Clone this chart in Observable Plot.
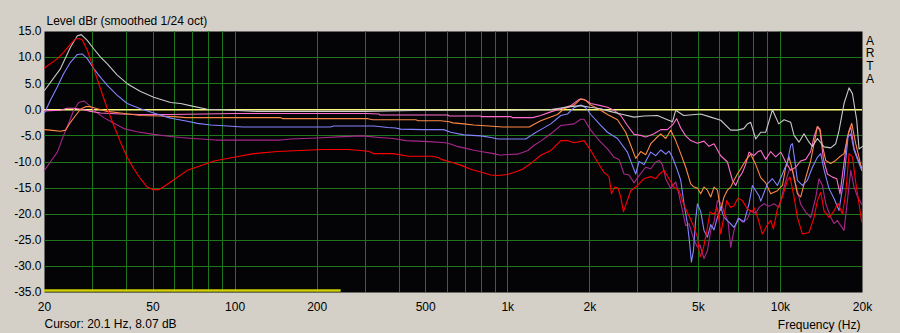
<!DOCTYPE html>
<html>
<head>
<meta charset="utf-8">
<script src="https://cdn.jsdelivr.net/npm/d3@7"></script>
<script src="https://cdn.jsdelivr.net/npm/@observablehq/plot@0.6"></script>
<style>
  html, body { margin: 0; padding: 0; background: #d4d0c8; }
  #chart svg { display: block; }
</style>
</head>
<body>
<div id="chart"></div>
<script>
// ---- axis / grid values ----
const xTicks = [20, 50, 100, 200, 500, 1000, 2000, 5000, 10000, 20000];
const xTickLabels = ["20", "50", "100", "200", "500", "1k", "2k", "5k", "10k", "20k"];
const gridFreqs = [30, 40, 50, 60, 70, 80, 90, 100, 200, 300, 400, 500, 600, 700, 800, 900,
                   1000, 2000, 3000, 4000, 5000, 6000, 7000, 8000, 9000, 10000];
const yTicks = [15, 10, 5, 0, -5, -10, -15, -20, -25, -30, -35];
const gridDb = [10, 5, 0, -5, -10, -15, -20, -25, -30];
const referenceDb = 0;
const cursorBand = { from: 20, to: 245, level: -34.6 };

// ---- measured series: [frequency Hz, level dB] ----
const gray = [[20,3.7],[22.9,7.9],[24.9,12.0],[26.4,14.2],[27.3,14.4],[28.7,13.3],[30.3,11.7],[32.1,10.1],[34.0,8.8],[36.9,6.7],[40.2,5.0],[45,3.5],[50.3,2.4],[58,1.4],[63.1,1.2],[70.4,0.65],[79.1,0.1],[90,0],[120,-0.3],[300,-0.3],[500,-0.1],[1000,-0.1],[1420,0],[1700,0.6],[1850,0.8],[2000,0.5],[2193,0.2],[2370,-0.3],[2596,-0.8],[2905,-1.4],[3161,-1.2],[3540,-1.1],[3851,-1.9],[4018,-2.3],[4130,-0.1],[4419,-1.1],[5101,-0.8],[5551,-1.4],[6040,-2.0],[6572,-3.9],[6955,-3.9],[7335,-3.6],[7568,-2.7],[7780,-2.4],[8118,-5.6],[8468,-4.3],[8831,-4.3],[9346,0.0],[9857,-2.7],[10310,-1.9],[10910,-2.4],[11218,-4.9],[11700,-6.2],[12205,-4.6],[12733,-6.2],[13103,-7.0],[13670,-5.5],[14454,-7.1],[15294,-7.3],[15952,-6.5],[16402,-4.0],[17110,1.2],[17850,4.2],[18370,3.1],[19050,-2.0],[19422,-7.5],[20000,-7.0]];

const red = [[20,8.0],[21,8.8],[22.3,9.8],[23.5,11.0],[24.9,12.6],[26.0,13.6],[26.9,13.6],[27.5,13.4],[28.7,11.4],[30.3,7.9],[32.1,4.0],[34.0,0.2],[35.9,-3.0],[38.0,-6.2],[40.2,-9.1],[42.5,-11.3],[45,-13.2],[47.6,-14.8],[50,-15.3],[52.5,-15.3],[55.6,-14.5],[59.6,-13.4],[66.8,-11.6],[74.7,-10.7],[83.7,-9.8],[99,-9.1],[117,-8.4],[143,-8.0],[173,-7.8],[210,-7.6],[260,-7.6],[289,-7.8],[310,-8.0],[323,-8.4],[379,-8.4],[433,-8.9],[528,-8.9],[559,-9.2],[570,-9.5],[618,-10.0],[672,-10.6],[731,-11.4],[796,-11.9],[866,-12.5],[919,-12.6],[1000,-12.4],[1052,-12.0],[1132,-11.4],[1214,-10.3],[1321,-8.7],[1438,-7.8],[1565,-5.9],[1656,-5.9],[1751,-6.3],[1905,-5.9],[2016,-7.8],[2133,-10.0],[2255,-12.0],[2352,-12.8],[2401,-16.1],[2469,-14.8],[2538,-15.0],[2596,-16.7],[2656,-19.5],[2731,-17.7],[2825,-15.5],[2990,-14.5],[3161,-13.2],[3345,-12.8],[3489,-13.2],[3588,-12.4],[3742,-11.6],[3903,-13.2],[4072,-14.8],[4248,-15.5],[4430,-18.3],[4621,-20.3],[4821,-22.5],[4961,-24.4],[5071,-28.2],[5219,-26.5],[5366,-23.3],[5518,-19.6],[5707,-20.0],[5875,-18.7],[6040,-23.8],[6180,-21.0],[6354,-17.4],[6572,-18.7],[6758,-18.4],[6990,-16.9],[7255,-17.4],[7568,-19.0],[7892,-19.6],[8000,-18.7],[8235,-20.5],[8590,-23.8],[8960,-22.0],[9213,-21.2],[9426,-22.8],[9750,-19.0],[10170,-16.7],[10610,-13.5],[10845,-12.9],[11218,-16.7],[11543,-20.6],[12042,-23.8],[12733,-23.5],[13282,-20.6],[13670,-17.4],[14057,-15.8],[14454,-19.4],[15077,-20.6],[15724,-19.4],[16264,-17.9],[16880,-19.9],[17359,-16.1],[17850,-8.4],[18370,-9.0],[18888,-13.9],[19422,-18.0],[19870,-21.5]];

const blue = [[20,-0.6],[21,1.8],[22.3,4.4],[23.5,6.9],[24.9,9.1],[26.4,10.6],[27.5,10.7],[28.7,9.8],[30.3,7.9],[32.1,6.2],[34,4.7],[36.9,2.8],[40.2,1.2],[45,0.2],[50.3,-0.6],[57.1,-1.5],[59.6,-1.7],[66.8,-2.2],[72.7,-2.6],[81.4,-2.9],[93.7,-3.1],[107,-3.3],[224,-3.3],[230,-3.1],[323,-3.1],[363,-3.4],[388,-3.5],[405,-3.7],[488,-3.8],[582,-3.8],[618,-4.3],[690,-4.8],[796,-5.0],[870,-5.3],[919,-5.6],[1164,-5.6],[1235,-4.7],[1321,-3.8],[1438,-2.7],[1565,-1.1],[1656,-0.8],[1751,0.4],[1853,0.9],[1932,0.4],[2016,-0.9],[2193,-3.0],[2321,-4.3],[2526,-5.5],[2747,-8.1],[2866,-10.7],[2947,-12.3],[3030,-9.9],[3161,-10.5],[3345,-8.1],[3489,-8.8],[3640,-7.7],[3796,-8.5],[3903,-7.9],[4018,-9.1],[4191,-11.6],[4309,-13.5],[4430,-18.0],[4560,-21.8],[4649,-25.7],[4716,-29.2],[4797,-27.0],[4890,-21.0],[4961,-18.0],[5101,-19.5],[5245,-23.1],[5398,-24.4],[5551,-22.0],[5707,-23.0],[5875,-20.6],[6040,-18.7],[6211,-20.6],[6478,-21.5],[6758,-22.5],[7050,-20.8],[7354,-21.5],[7670,-18.0],[7892,-14.5],[8118,-15.5],[8347,-16.5],[8468,-17.5],[8960,-14.2],[9346,-13.2],[9750,-14.5],[10170,-12.3],[10610,-10.0],[10910,-6.8],[11067,-6.5],[11283,-9.6],[11543,-13.5],[12042,-14.5],[12561,-13.5],[13103,-11.0],[13670,-9.1],[14057,-8.4],[14454,-11.5],[15077,-15.1],[15724,-17.0],[16402,-19.3],[17110,-13.0],[17700,-5.2],[18110,-4.6],[18620,-7.7],[19164,-9.5],[19870,-11.6]];

const orange = [[20,-3.8],[21,-3.9],[22.9,-4.1],[23.9,-3.9],[24.9,-2.4],[26,-1.1],[27.1,0.1],[28.3,0.6],[29.5,0.6],[31.2,0.2],[34,-0.3],[38,-0.6],[45,-1.1],[53.3,-1.2],[60,-1.3],[66,-1.5],[147,-1.5],[150,-1.7],[307,-1.7],[320,-1.9],[460,-1.9],[470,-2.1],[568,-2.1],[610,-2.3],[629,-2.5],[690,-2.7],[750,-2.9],[852,-3.1],[959,-3.3],[1200,-3.3],[1235,-2.9],[1321,-2.1],[1438,-1.4],[1521,-0.9],[1609,0.2],[1751,0.9],[1853,2.1],[1932,1.8],[2016,0.9],[2193,-0.1],[2321,-0.9],[2526,-1.9],[2708,-4.3],[2825,-6.8],[2947,-9.3],[3074,-8.0],[3206,-8.6],[3345,-6.5],[3489,-5.5],[3640,-4.6],[3796,-5.5],[3960,-3.9],[4130,-5.9],[4309,-8.4],[4494,-11.0],[4688,-14.2],[4821,-14.8],[4961,-15.0],[5101,-16.1],[5245,-14.8],[5398,-15.4],[5551,-16.7],[5707,-14.8],[5875,-15.4],[6040,-19.3],[6211,-16.7],[6391,-15.4],[6572,-14.8],[6758,-13.5],[6955,-12.3],[7151,-11.3],[7460,-9.7],[7780,-8.5],[8118,-10.5],[8468,-13.0],[8831,-14.0],[9213,-16.1],[9750,-15.5],[10170,-14.5],[10457,-11.0],[10753,-9.0],[11067,-11.6],[11543,-16.1],[11870,-16.7],[12383,-13.0],[12917,-9.7],[13474,-4.9],[13670,-3.2],[13974,-3.7],[14260,-6.9],[14663,-9.7],[15294,-10.3],[15952,-9.7],[16402,-9.1],[17110,-8.4],[17850,-4.0],[18263,-2.6],[18888,-6.5],[19422,-9.1],[19870,-11.6]];

const pink = [[20,-0.2],[22.9,-0.1],[24.2,0.3],[25.6,0.3],[27.9,0.0],[29.5,-0.3],[32.1,-0.6],[38,-0.8],[45,-0.9],[58,-0.9],[100,-0.7],[300,-0.7],[337,-0.8],[340,-1.0],[603,-1.0],[610,-1.2],[796,-1.2],[800,-1.3],[1026,-1.3],[1040,-1.5],[1235,-1.5],[1321,-1.1],[1438,-0.4],[1565,0.2],[1702,0.8],[1826,2.0],[1905,2.0],[2016,1.2],[2193,0.8],[2321,0.5],[2454,-0.1],[2596,-1.1],[2747,-3.0],[2905,-4.7],[3074,-4.9],[3206,-5.2],[3439,-4.6],[3640,-3.8],[3851,-3.8],[4018,-2.9],[4166,-1.7],[4309,-3.5],[4494,-5.0],[4688,-5.9],[4961,-6.4],[5245,-6.0],[5472,-7.0],[5707,-6.5],[6040,-8.8],[6391,-10.0],[6668,-13.5],[6856,-14.5],[7050,-13.0],[7255,-12.0],[7460,-10.4],[7670,-8.1],[8000,-8.8],[8235,-8.1],[8468,-7.8],[8831,-9.5],[9213,-8.0],[9610,-9.0],[10025,-8.1],[10457,-10.0],[10910,-11.6],[11379,-11.0],[11870,-9.8],[12383,-9.5],[12917,-8.0],[13282,-5.2],[13670,-3.2],[13974,-4.0],[14381,-9.5],[14874,-12.3],[15514,-12.9],[16086,-13.2],[16540,-16.1],[17024,-11.0],[17610,-5.2],[18110,-3.2],[18620,-7.4],[19260,-9.5],[19870,-11.1]];

const purple = [[20,-11.6],[21,-10.0],[22.3,-8.1],[23.5,-4.9],[24.6,-2.4],[25.6,-0.1],[26.7,1.4],[27.9,1.7],[29.1,0.9],[30.8,-0.4],[33,-1.5],[35.4,-2.4],[39.1,-3.6],[43.7,-4.2],[50.3,-4.7],[58,-5.1],[63,-5.3],[70,-5.5],[75,-5.6],[85,-5.8],[147,-5.8],[160,-5.6],[200,-5.4],[260,-5.1],[290,-5.0],[307,-5.1],[337,-5.3],[380,-5.5],[423,-5.9],[513,-6.1],[590,-6.3],[620,-6.6],[650,-7.0],[690,-7.3],[744,-7.7],[796,-8.0],[889,-8.4],[942,-8.7],[967,-8.6],[1088,-8.5],[1185,-7.8],[1249,-6.8],[1321,-6.0],[1438,-4.6],[1565,-3.0],[1751,-2.7],[1853,-1.8],[1905,-1.8],[2016,-3.9],[2133,-5.5],[2193,-6.2],[2321,-7.5],[2454,-9.1],[2559,-9.5],[2670,-12.3],[2785,-12.5],[2905,-14.0],[3030,-12.6],[3206,-11.0],[3345,-11.3],[3489,-10.0],[3588,-9.7],[3692,-10.5],[3796,-13.2],[3960,-15.1],[4130,-13.8],[4248,-16.3],[4371,-19.3],[4494,-22.2],[4621,-21.8],[4821,-25.0],[4961,-26.3],[5071,-25.9],[5245,-28.5],[5398,-27.0],[5551,-23.1],[5707,-21.5],[5875,-17.4],[6040,-17.8],[6247,-19.9],[6424,-21.5],[6572,-26.3],[6758,-23.1],[6990,-20.7],[7255,-21.5],[7568,-20.9],[7780,-19.3],[8118,-19.8],[8347,-18.7],[8706,-18.0],[9081,-18.5],[9474,-18.0],[9883,-18.7],[10310,-14.8],[10753,-11.6],[11067,-11.3],[11379,-14.2],[11870,-18.1],[12383,-19.6],[12917,-20.6],[13474,-16.8],[13855,-13.2],[14260,-14.5],[14663,-18.0],[15294,-20.6],[15724,-21.8],[16182,-21.2],[16640,-22.2],[17110,-23.1],[17610,-17.4],[18110,-11.6],[18620,-14.8],[19164,-16.6],[19870,-18.1]];

const seriesOrder = [
  { data: purple, color: "#a8288c" },
  { data: pink,   color: "#ff6ccc" },
  { data: orange, color: "#ff8844" },
  { data: blue,   color: "#8484ff" },
  { data: gray,   color: "#c8c8c8" },
  { data: red,    color: "#ff0000" }
];

const texts = {
  title: "Level dBr (smoothed 1/24 oct)",
  cursor: "Cursor: 20.1 Hz, 8.07 dB",
  xLabel: "Frequency (Hz)",
  brand: "A\nR\nT\nA"
};

const gridColor = "#1d761d";
const font = "'Liberation Sans', Arial, sans-serif";

const lineMarks = seriesOrder.map(s =>
  Plot.line(s.data, { x: d => d[0], y: d => d[1], stroke: s.color, strokeWidth: 1.1, curve: "linear" })
);

const chart = Plot.plot({
  width: 900,
  height: 333,
  marginLeft: 44,
  marginRight: 38,
  marginTop: 31,
  marginBottom: 41,
  style: { background: "#d4d0c8", fontFamily: font, fontSize: "12px", color: "#000", overflow: "visible" },
  x: { type: "log", domain: [20, 20000], axis: null },
  y: { domain: [-35, 15], axis: null },
  marks: [
    Plot.frame({ fill: "#040407", stroke: null }),
    Plot.ruleX(gridFreqs, { stroke: gridColor, strokeWidth: 1, shapeRendering: "crispEdges" }),
    Plot.ruleY(gridDb, { stroke: gridColor, strokeWidth: 1, shapeRendering: "crispEdges" }),
    Plot.ruleY([cursorBand], { y: "level", x1: "from", x2: "to", stroke: "#cccc00", strokeWidth: 2.5 }),
    Plot.ruleY([referenceDb], { stroke: "#ffff80", strokeWidth: 1.6 }),
    ...lineMarks,
    Plot.text(xTicks, {
      x: d => d, text: (d, i) => xTickLabels[i],
      frameAnchor: "bottom", dy: 15, textAnchor: "middle", lineAnchor: "middle", fontSize: 12, fill: "#000"
    }),
    Plot.text(yTicks, {
      y: d => d, text: d => d.toFixed(1),
      frameAnchor: "left", dx: -3, textAnchor: "end", lineAnchor: "middle", fontSize: 12, fill: "#000"
    }),
    Plot.text([texts.title], { frameAnchor: "top-left", dx: 2, dy: -10.5, textAnchor: "start", lineAnchor: "middle", fontSize: 12, fill: "#000" }),
    Plot.text([texts.cursor], { frameAnchor: "bottom-left", dx: 0, dy: 32, textAnchor: "start", lineAnchor: "middle", fontSize: 12, fill: "#000" }),
    Plot.text([texts.xLabel], { frameAnchor: "bottom-right", dx: -2, dy: 33, textAnchor: "end", lineAnchor: "middle", fontSize: 12, fill: "#000" }),
    Plot.text([texts.brand], { frameAnchor: "top-right", dx: 7.5, dy: 4, textAnchor: "middle", lineAnchor: "top", lineHeight: 1.06, fontSize: 12, fill: "#000" })
  ]
});

document.getElementById("chart").appendChild(chart);
</script>
</body>
</html>
